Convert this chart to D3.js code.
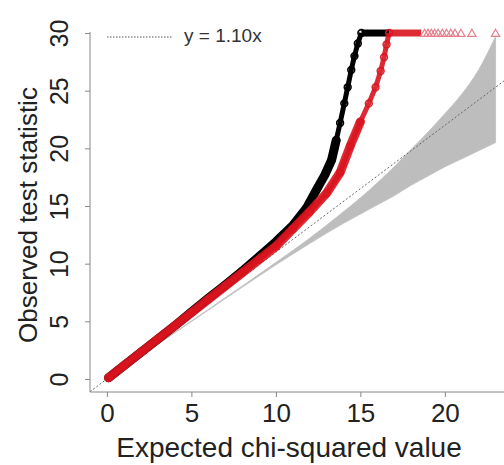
<!DOCTYPE html>
<html>
<head>
<meta charset="utf-8">
<script src="https://cdn.jsdelivr.net/npm/d3@7"></script>
<style>
    html, body { margin: 0; padding: 0; background: #fff; }
    #qq-chart { width: 504px; height: 465px; }
    text { font-family: "Liberation Sans", Arial, sans-serif; }
</style>
</head>
<body>
<div id="qq-chart"></div>
<script>
// data
const blackExpected = [0.1, 1, 2, 3, 4, 5, 6, 7, 8, 9, 10, 11, 11.8, 12.4, 12.9, 13.3, 13.57, 13.8, 14.05, 14.25, 14.46, 14.65, 14.85, 15.06];
const blackObserved = [0.1, 1.15, 2.3, 3.45, 4.6, 5.8, 7.0, 8.15, 9.35, 10.6, 11.9, 13.3, 14.8, 16.4, 17.7, 19.0, 20.7, 22.2, 23.9, 25.3, 26.8, 28.0, 29.1, 30];
const blackCapX = [15.06, 15.5, 16.0, 16.4, 16.7];

const redExpected = [0.1, 1, 2, 3, 4, 5, 6, 7, 8, 9, 10, 11, 12, 13, 13.8, 14.4, 15.0, 15.5, 15.9, 16.2, 16.4, 16.55, 16.7];
const redObserved = [0.1, 1.15, 2.3, 3.45, 4.6, 5.75, 6.9, 8.05, 9.2, 10.35, 11.5, 13.0, 14.5, 16.1, 17.9, 20.2, 22.3, 23.9, 25.3, 26.7, 27.9, 29.0, 30];
const redCapX = [16.7, 17.2, 17.7, 18.2, 18.6];
const redCapTriangles = [18.8, 19.0, 19.2, 19.4, 19.6, 19.85, 20.1, 20.35, 20.6, 20.95, 21.6, 23.0];

const capValue = 30;

const bandX = [0.1, 5, 8, 10, 12, 14, 15, 16, 17, 18, 19, 20, 21, 22, 23.0];
const bandLow = [0.1, 4.98, 7.95, 9.9, 11.75, 13.5, 14.3, 15.1, 15.9, 16.8, 17.6, 18.4, 19.1, 19.8, 20.5];
const bandHigh = [0.1, 5.02, 8.05, 10.1, 12.2, 14.5, 15.7, 17.0, 18.4, 19.9, 21.4, 23.0, 24.7, 26.8, 29.7];

const slope = 1.10;
const xTicks = [0, 5, 10, 15, 20];
const yTicks = [0, 5, 10, 15, 20, 25, 30];

const width = 504;
const height = 465;
const plotLeft = 90, plotRight = 504, plotTop = 32, plotBottom = 392;

const svg = d3.select('#qq-chart')
    .append('svg')
    .attr('width', width)
    .attr('height', height);

const xScale = d3.scaleLinear()
    .domain([-1.0, 23.5])
    .range([plotLeft, plotRight]);

const yScale = d3.scaleLinear()
    .domain([-1.13, 30.09])
    .range([plotBottom, plotTop]);

// confidence band
const band = bandX.map((x, i) => [x, bandLow[i], bandHigh[i]]);
svg.append('path')
    .attr('fill', '#bdbdbd')
    .attr('stroke', '#c4c4c4')
    .attr('stroke-width', 1)
    .attr('d', d3.area()
        .curve(d3.curveMonotoneX)
        .x(d => xScale(d[0]))
        .y0(d => yScale(d[1]))
        .y1(d => yScale(d[2]))(band));

// y = 1.10x reference line
const xDom = xScale.domain();
svg.append('line')
    .attr('x1', xScale(xDom[0]))
    .attr('y1', yScale(slope * xDom[0]))
    .attr('x2', xScale(xDom[1]))
    .attr('y2', yScale(slope * xDom[1]))
    .attr('stroke', '#666')
    .attr('stroke-width', 1)
    .attr('stroke-dasharray', '2,2');

// series
const line = d3.line()
    .curve(d3.curveLinear)
    .x(d => xScale(d[0]))
    .y(d => yScale(d[1]));

function drawSeries(xs, ys, capXs, color, opacity, denseTop) {
    const pts = xs.map((x, i) => [x, ys[i]]);

    // thin chain of points along the whole curve
    svg.append('path')
        .attr('fill', 'none')
        .attr('stroke', color)
        .attr('stroke-opacity', opacity)
        .attr('stroke-width', 5)
        .attr('stroke-linejoin', 'round')
        .attr('d', line(pts));

    // dense part
    svg.append('path')
        .attr('fill', 'none')
        .attr('stroke', color)
        .attr('stroke-opacity', opacity)
        .attr('stroke-width', 9)
        .attr('stroke-linejoin', 'round')
        .attr('stroke-linecap', 'round')
        .attr('d', line(pts.filter(d => d[1] <= denseTop)));

    svg.append('path')
        .attr('fill', 'none')
        .attr('stroke', color)
        .attr('stroke-opacity', opacity)
        .attr('stroke-width', 7)
        .attr('d', line(capXs.map(x => [x, capValue])));

    svg.append('g')
        .selectAll('circle')
        .data(pts)
        .join('circle')
        .attr('cx', d => xScale(d[0]))
        .attr('cy', d => yScale(d[1]))
        .attr('r', 3.4)
        .attr('fill', 'none')
        .attr('stroke', color)
        .attr('stroke-opacity', opacity)
        .attr('stroke-width', 1.6);
}

drawSeries(blackExpected, blackObserved, blackCapX, '#000', 1, 20.7);
drawSeries(redExpected, redObserved, redCapX, '#d9141f', 0.9, 22.3);

// capped points
svg.append('g')
    .selectAll('path')
    .data(redCapTriangles)
    .join('path')
    .attr('transform', d => `translate(${xScale(d)},${yScale(capValue) + 1})`)
    .attr('d', d3.symbol(d3.symbolTriangle).size(30))
    .attr('fill', 'none')
    .attr('stroke', '#e6808c')
    .attr('stroke-width', 1.2);

// axes
const yAxis = svg.append('g')
    .attr('transform', `translate(${plotLeft},0)`)
    .call(d3.axisLeft(yScale).tickValues(yTicks).tickSize(5).tickSizeOuter(0));
yAxis.select('.domain').attr('d', `M0,${plotTop}V${plotBottom}`).attr('stroke', '#888');
yAxis.selectAll('.tick line').attr('stroke', '#888');
yAxis.selectAll('.tick text')
    .attr('x', 0)
    .attr('y', -22)
    .attr('dy', 0)
    .attr('transform', 'rotate(-90)')
    .style('text-anchor', 'middle')
    .style('font-size', '25px')
    .attr('fill', '#222');

const xAxis = svg.append('g')
    .attr('transform', `translate(0,${plotBottom})`)
    .call(d3.axisBottom(xScale).tickValues(xTicks).tickSize(5).tickSizeOuter(0));
xAxis.select('.domain').attr('d', `M${plotLeft},0H${plotRight}`).attr('stroke', '#888');
xAxis.selectAll('.tick line').attr('stroke', '#888');
xAxis.selectAll('.tick text')
    .attr('y', 30)
    .attr('dy', 0)
    .style('font-size', '26px')
    .attr('fill', '#222');

// axis titles
svg.append('text')
    .attr('x', 289)
    .attr('y', 457)
    .style('text-anchor', 'middle')
    .style('font-size', '28px')
    .attr('fill', '#222')
    .text('Expected chi-squared value');

svg.append('text')
    .attr('transform', 'translate(37,215) rotate(-90)')
    .style('text-anchor', 'middle')
    .style('font-size', '26px')
    .attr('fill', '#222')
    .text('Observed test statistic');

// legend
svg.append('line')
    .attr('x1', 107)
    .attr('x2', 173)
    .attr('y1', 37)
    .attr('y2', 37)
    .attr('stroke', '#555')
    .attr('stroke-width', 1.2)
    .attr('stroke-dasharray', '1.5,1.5');

svg.append('text')
    .attr('x', 184)
    .attr('y', 37)
    .attr('dominant-baseline', 'middle')
    .style('font-size', '19px')
    .attr('fill', '#333')
    .text('y = 1.10x');
</script>
</body>
</html>
